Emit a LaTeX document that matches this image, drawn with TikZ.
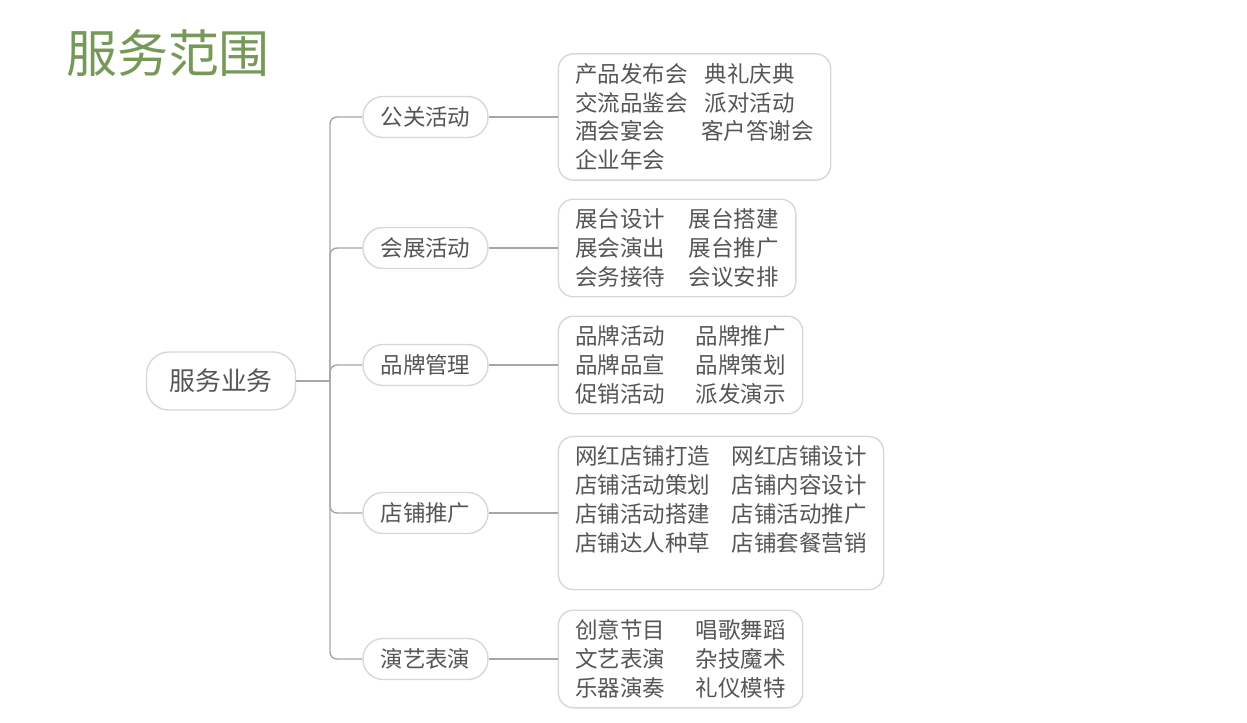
\documentclass[tikz,border=0pt]{standalone}
\usepackage{fontspec}
\newfontfamily\cjk{Noto Sans CJK SC}
\usetikzlibrary{positioning}
\definecolor{TitleGreen}{RGB}{118,153,88}
\definecolor{LineGray}{RGB}{166,166,166}
\definecolor{EdgeGray}{RGB}{215,215,215}
\definecolor{TextGray}{RGB}{85,85,85}
\newcommand{\pair}[3]{\makebox[#1][l]{#2}#3}

\begin{document}
\begin{tikzpicture}[x=0.02cm, y=-0.02cm, every node/.style={font=\cjk, text=TextGray}, root/.style={draw=EdgeGray,line width=0.8pt,rounded corners=0.45cm,minimum width=2.98cm,minimum height=1.16cm,font=\cjk\fontsize{14.7}{17}\selectfont}, topic/.style={draw=EdgeGray,line width=0.8pt,rounded corners=0.4cm,minimum width=2.5cm,minimum height=0.82cm,font=\cjk\fontsize{12.8}{15}\selectfont}, leaf/.style={draw=EdgeGray,line width=0.8pt,rounded corners=0.3cm,align=left,inner xsep=0.34cm,inner ysep=0.19cm,font=\cjk\fontsize{12.8}{16.4}\selectfont}, conn/.style={LineGray,line width=0.8pt,rounded corners=0.14cm}]
\useasboundingbox (0,0) rectangle (1247,723);
\node[font=\cjk\fontsize{29}{32}\selectfont,text=TitleGreen,inner sep=0pt] (title) at (168,53) {服务范围};
\node[root] (r) at (221,381) {服务业务};
\node[topic] (t1) at (425.5,117) {公关活动};
\node[topic] (t2) at (425.5,248) {会展活动};
\node[topic] (t3) at (425.5,365) {品牌管理};
\node[topic] (t4) at (425.5,513) {店铺推广};
\node[topic] (t5) at (425.5,659) {演艺表演};
\node[leaf,right=1.38cm of t1] (l1) {\pair{5.75em}{产品发布会}{典礼庆典}\\\pair{5.75em}{交流品鉴会}{派对活动}\\\pair{5.6em}{酒会宴会}{客户答谢会}\\企业年会};
\node[leaf,right=1.38cm of t2] (l2) {\pair{5.05em}{展台设计}{展台搭建}\\\pair{5.05em}{展会演出}{展台推广}\\\pair{5.05em}{会务接待}{会议安排}};
\node[leaf,right=1.38cm of t3] (l3) {\pair{5.35em}{品牌活动}{品牌推广}\\\pair{5.35em}{品牌品宣}{品牌策划}\\\pair{5.35em}{促销活动}{派发演示}};
\node[leaf,right=1.38cm of t4] (l4) {\pair{6.95em}{网红店铺打造}{网红店铺设计}\\\pair{6.95em}{店铺活动策划}{店铺内容设计}\\\pair{6.95em}{店铺活动搭建}{店铺活动推广}\\\pair{6.95em}{店铺达人种草}{店铺套餐营销}\\\mbox{}};
\node[leaf,right=1.38cm of t5] (l5) {\pair{5.35em}{创意节目}{唱歌舞蹈}\\\pair{5.35em}{文艺表演}{杂技魔术}\\\pair{5.35em}{乐器演奏}{礼仪模特}};
\coordinate (fork) at (330,381);
\draw[conn] (r) -- (fork);
\foreach \t in {t1,t2,t3,t4,t5} \draw[conn] (fork) |- (\t);
\foreach \t/\l in {t1/l1,t2/l2,t3/l3,t4/l4,t5/l5} \draw[conn] (\t) -- (\l);
\end{tikzpicture}
\end{document}
